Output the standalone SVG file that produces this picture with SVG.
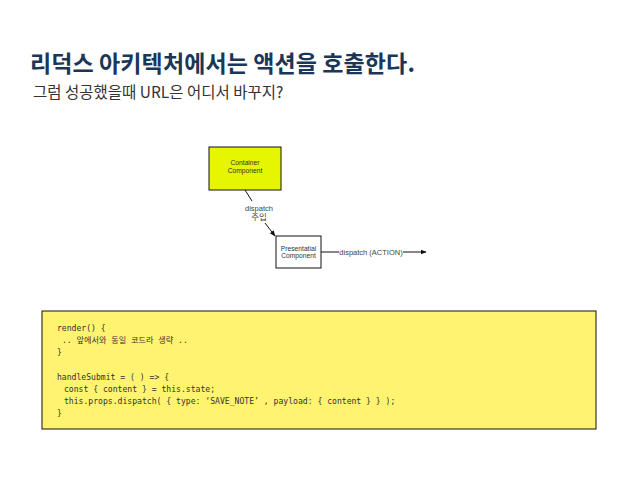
<svg xmlns="http://www.w3.org/2000/svg" width="638" height="479" viewBox="0 0 638 479">
<defs>
<marker id="ah" viewBox="0 0 10 10" refX="9" refY="5" markerWidth="6" markerHeight="6" orient="auto" markerUnits="userSpaceOnUse">
<path d="M0,1 L10,5 L0,9 Z" fill="#111"/>
</marker>
<style>
.title{font-family:"Noto Sans CJK KR","Noto Sans",sans-serif;font-weight:bold;font-size:23px;letter-spacing:0.1px;fill:#1b3656}
.sub{font-family:"Noto Sans CJK KR","Noto Sans",sans-serif;font-size:15.5px;fill:#333}
.small{font-family:"Liberation Sans","Noto Sans CJK KR",sans-serif;font-size:6.7px;fill:#333;text-anchor:middle}
.lbl{font-family:"Liberation Sans","Noto Sans CJK KR",sans-serif;font-size:7.5px;fill:#444;text-anchor:middle}
.box{stroke:#111;stroke-width:1}
.code{font-family:"DejaVu Sans Mono","Noto Sans CJK KR",monospace;font-size:8.1px;fill:#333}
.conn{stroke:#111;stroke-width:1;fill:none}
</style>
</defs>
<rect width="638" height="479" fill="#fff"/>
<text class="title" x="30" y="72">리덕스 아키텍처에서는 액션을 호출한다.</text>
<text class="sub" x="33" y="98">그럼 성공했을때 URL은 어디서 바꾸지?</text>

<g id="container">
<rect class="box" x="209" y="147" width="72" height="43" fill="#e6f500"/>
<text class="small" x="245" y="165">Container</text>
<text class="small" x="245" y="173">Component</text>
</g>

<g id="presentational">
<rect class="box" x="276" y="236" width="45" height="32" fill="#fff"/>
<text class="small" x="298.5" y="251">Presentatial</text>
<text class="small" x="298.5" y="258">Component</text>
</g>

<g id="connectors">
<line class="conn" x1="245" y1="190" x2="252" y2="201"/>
<line class="conn" x1="265" y1="223" x2="275" y2="236" marker-end="url(#ah)"/>
<text class="lbl" x="259" y="211">dispatch</text>
<text class="lbl" x="259" y="220" style="font-size:8.5px">주입</text>
<line class="conn" x1="321" y1="252" x2="339" y2="252"/>
<line class="conn" x1="403" y1="252" x2="426" y2="252" marker-end="url(#ah)"/>
<text class="lbl" x="371" y="255">dispatch (ACTION)</text>
</g>

<g id="codebox">
<rect x="42" y="311" width="554" height="118" fill="#fff36f" stroke="#111" stroke-width="1"/>
<text class="code" x="57" y="331">render() {</text>
<text class="code" x="62" y="343">.. 앞에서와 동일 코드라 생략 ..</text>
<text class="code" x="57" y="355">}</text>
<text class="code" x="57" y="380">handleSubmit = ( ) =&gt; {</text>
<text class="code" x="64" y="392">const { content } = this.state;</text>
<text class="code" x="64" y="404">this.props.dispatch( { type: ‘SAVE_NOTE’ , payload: { content } } );</text>
<text class="code" x="57" y="416">}</text>
</g>
</svg>
